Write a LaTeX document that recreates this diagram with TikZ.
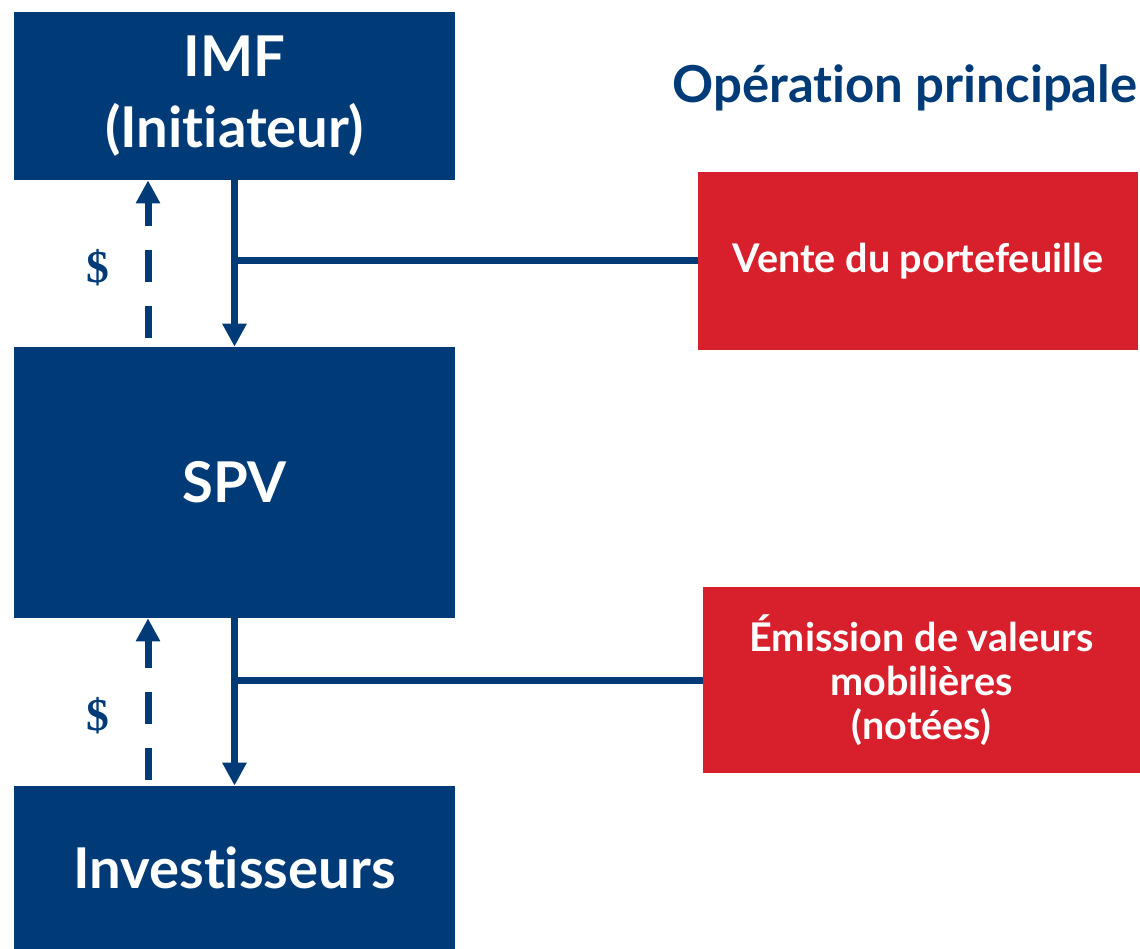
\documentclass[tikz,border=0pt]{standalone}
\usepackage{fontspec}
\setmainfont{Lato}[Ligatures=NoCommon]
\newfontfamily\dollarfont{Liberation Serif}
\usepackage{tikz}
\usetikzlibrary{arrows.meta,positioning}
\definecolor{imfblue}{HTML}{003B78}
\definecolor{imfred}{HTML}{D8202C}
\tikzset{
  every picture/.style = {
    x = 0.02cm,
    y = -0.02cm,
    >={Triangle[length=0.46cm,width=0.46cm]},
  }
  ,
  entity/.style = {
    rectangle,
    fill = imfblue,
    text = white,
    font = \fontsize{32}{40}\selectfont\bfseries,
    align = center,
    minimum width = 8.82cm,
    inner sep = 0pt
  }
  , % red boxes on the right
  operation/.style = {
    rectangle,
    fill = imfred,
    text = white,
    font = \fontsize{22.5}{25}\selectfont\bfseries,
    align = center,
    inner sep = 0pt
  }
  , % the solid flows
  flow/.style = {
    draw = imfblue,
    line width = 0.14cm
  }
  , % the dashed money flows
  payment/.style = {
    draw = imfblue,
    line width = 0.14cm,
    dash pattern = on 0.64cm off 0.48cm
  }
  ,
  label-money/.style = {
    text = imfblue,
    font = \dollarfont\fontsize{26}{30}\selectfont\bfseries
  }
}
\begin{document}
\begin{tikzpicture}
		\useasboundingbox (0,0) rectangle (1140,949);
		\node at (234.5,96) [entity,minimum height=3.36cm] (imf) {IMF\\(Initiateur)};
		\node at (234.5,482.5) [entity,minimum height=5.42cm] (spv) {SPV};
		\node at (234.5,867.5) [entity,minimum height=3.26cm] (inv) {Investisseurs};
		\node at (918,261) [operation,minimum width=8.8cm,minimum height=3.56cm] (vente) {Vente du portefeuille};
		\node at (921.5,680) [operation,minimum width=8.74cm,minimum height=3.72cm] (emission) {Émission de valeurs\\mobilières\\(notées)};
		\node at (1138,88) [anchor=east,text=imfblue,font=\fontsize{29}{34}\selectfont\bfseries,inner sep=0pt] (titre) {Opération principale};

		\coordinate (up1) at (148,338);
		\coordinate (up2) at (148,780);

		\draw [flow,->] (imf) -- (spv);
		\draw [flow] (vente.west) -- (vente.west -| imf.south);
		\draw [payment,->] (up1) -- (up1 |- imf.south);
		\node at (98,268) [label-money] (d1) {\$};

		\draw [flow,->] (spv) -- (inv);
		\draw [flow] (emission.west) -- (emission.west -| spv.south);
		\draw [payment,->] (up2) -- (up2 |- spv.south);
		\node at (98,716) [label-money] (d2) {\$};
		\end{tikzpicture}
\end{document}
